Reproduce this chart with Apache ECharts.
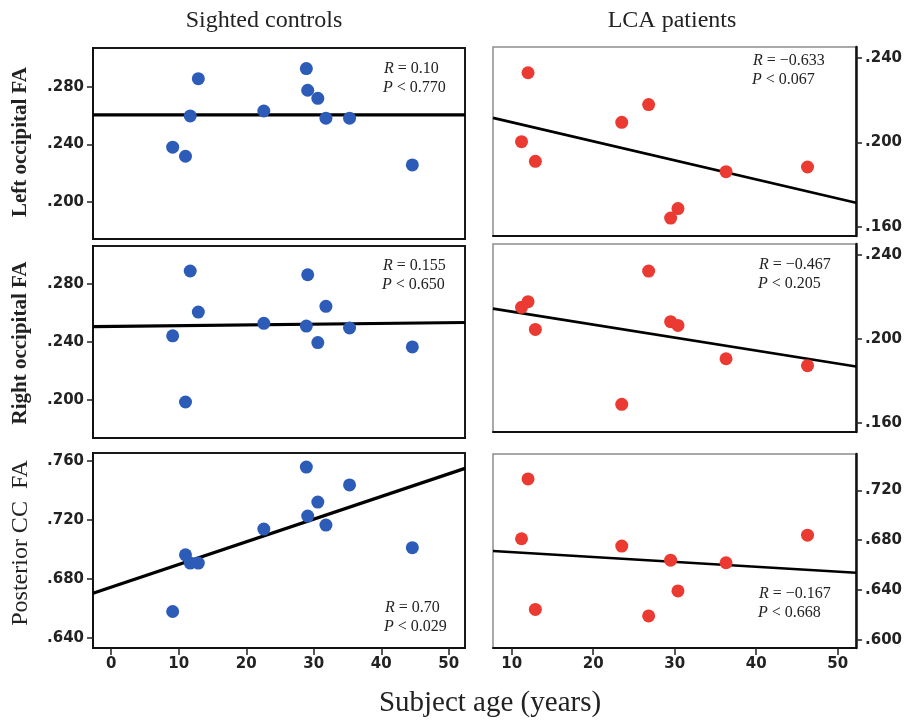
<!DOCTYPE html>
<html>
<head>
<meta charset="utf-8">
<script src="https://cdn.jsdelivr.net/npm/echarts@6/dist/echarts.min.js"></script>
<style>
  html, body { margin: 0; padding: 0; background: #fff; }
  #chart { width: 908px; height: 720px; }
</style>
</head>
<body>
<div id="chart"></div>
<script>
// ages
const sightedAge = [9.1, 11.0, 11.7, 12.9, 22.6, 28.9, 29.1, 30.6, 31.8, 35.3, 44.6]
const lcaAge = [11.2, 12.0, 12.9, 23.5, 26.8, 29.5, 30.4, 36.3, 46.3]

// FA values, same order as the ages
const sightedLeftOcc = [0.238, 0.2317, 0.2597, 0.2855, 0.2631, 0.2925, 0.2775, 0.2719, 0.2581, 0.2581, 0.2257]
const sightedRightOcc = [0.2442, 0.1984, 0.289, 0.2606, 0.2528, 0.2509, 0.2864, 0.2395, 0.2646, 0.2496, 0.2365]
const sightedPostCC = [0.6581, 0.6965, 0.6909, 0.6909, 0.7139, 0.7559, 0.7227, 0.7322, 0.7166, 0.7438, 0.7013]
const lcaLeftOcc = [0.2003, 0.2330, 0.1910, 0.2095, 0.2179, 0.1641, 0.1686, 0.1861, 0.1883]
const lcaRightOcc = [0.2151, 0.2178, 0.2046, 0.1689, 0.2324, 0.2083, 0.2065, 0.1906, 0.1873]
const lcaPostCC = [0.6811, 0.7292, 0.6243, 0.6752, 0.6191, 0.6639, 0.6392, 0.6618, 0.6840]

// regression lines: [age, FA] at both ends of each panel
const fitSightedLeftOcc = [[-2.7, 0.2604], [52.4, 0.2604]]
const fitSightedRightOcc = [[-2.7, 0.2506], [52.4, 0.2534]]
const fitSightedPostCC = [[-2.7, 0.6705], [52.4, 0.7550]]
const fitLcaLeftOcc = [[7.7, 0.2116], [52.25, 0.1714]]
const fitLcaRightOcc = [[7.7, 0.2145], [52.25, 0.1869]]
const fitLcaPostCC = [[7.7, 0.6712], [52.25, 0.6538]]

// axis ranges and tick labels
const sightedAgeRange = [-2.7, 52.4]
const lcaAgeRange = [7.7, 52.25]
const sightedAgeTicks = [0, 10, 20, 30, 40, 50]
const lcaAgeTicks = [10, 20, 30, 40, 50]
const faRanges = [[0.1743, 0.3068], [0.1735, 0.3063], [0.6334, 0.7654], [0.1556, 0.2452], [0.1557, 0.2453], [0.5933, 0.7492]]
const faTicks = [[0.20, 0.24, 0.28], [0.20, 0.24, 0.28], [0.64, 0.68, 0.72, 0.76], [0.16, 0.20, 0.24], [0.16, 0.20, 0.24], [0.60, 0.64, 0.68, 0.72]]

// correlation stats per panel
const statR = ['0.10', '0.155', '0.70', '\u22120.633', '\u22120.467', '\u22120.167']
const statP = ['0.770', '0.650', '0.029', '0.067', '0.205', '0.668']

const rowTitles = ['Left occipital FA', 'Right occipital FA', 'Posterior CC  FA']
const colTitles = ['Sighted controls', 'LCA patients']

const blue = '#2c5cb8'
const red = '#ea3a31'
const sansFont = 'DejaVu Sans'
const serifFont = 'Liberation Serif'

const chart = echarts.init(document.getElementById('chart'))

const grids = [
  {left: 93, top: 48, width: 372, height: 191},
  {left: 93, top: 246, width: 372, height: 192},
  {left: 93, top: 453, width: 372, height: 195},
  {left: 493, top: 47, width: 363, height: 189},
  {left: 493, top: 244, width: 363, height: 188},
  {left: 493, top: 454, width: 363, height: 194}
].map((g, i) => ({
  ...g,
  show: true,
  outerBoundsMode: 'none',
  borderColor: i < 3 ? '#1a1a1a' : '#8d8d8d',
  borderWidth: i < 3 ? 2 : 1.5,
  backgroundColor: 'transparent'
}))

const faLabel = (v) => '.' + v.toFixed(3).split('.')[1]

const xAxes = grids.map((g, i) => {
  const sighted = i < 3
  const bottom = i === 2 || i === 5
  const ticks = sighted ? sightedAgeTicks : lcaAgeTicks
  const range = sighted ? sightedAgeRange : lcaAgeRange
  return {
    gridIndex: i,
    type: 'value',
    min: range[0],
    max: range[1],
    axisLine: {show: true, onZero: false, lineStyle: {color: '#111', width: 2}},
    axisTick: {show: bottom, length: 7, customValues: ticks, lineStyle: {color: '#222', width: 1.5}},
    axisLabel: {
      show: bottom, customValues: ticks, margin: 9,
      fontFamily: sansFont, fontWeight: 'bold', fontSize: 15, color: '#222'
    },
    splitLine: {show: false}
  }
})

const yAxes = grids.map((g, i) => ({
  gridIndex: i,
  type: 'value',
  position: i < 3 ? 'left' : 'right',
  min: faRanges[i][0],
  max: faRanges[i][1],
  axisLine: {show: true, onZero: false, lineStyle: {color: '#111', width: i < 3 ? 2 : 2.5}},
  axisTick: {show: true, length: 6, customValues: faTicks[i], lineStyle: {color: '#222', width: 1.5}},
  axisLabel: {
    customValues: faTicks[i], margin: 9, formatter: faLabel,
    fontFamily: sansFont, fontWeight: 'bold', fontSize: 15, color: '#222'
  },
  splitLine: {show: false}
}))

const panels = [
  {age: sightedAge, fa: sightedLeftOcc, fit: fitSightedLeftOcc, color: blue},
  {age: sightedAge, fa: sightedRightOcc, fit: fitSightedRightOcc, color: blue},
  {age: sightedAge, fa: sightedPostCC, fit: fitSightedPostCC, color: blue},
  {age: lcaAge, fa: lcaLeftOcc, fit: fitLcaLeftOcc, color: red},
  {age: lcaAge, fa: lcaRightOcc, fit: fitLcaRightOcc, color: red},
  {age: lcaAge, fa: lcaPostCC, fit: fitLcaPostCC, color: red}
]

const series = []
panels.forEach((p, i) => {
  series.push({
    type: 'line',
    xAxisIndex: i,
    yAxisIndex: i,
    data: p.fit,
    symbol: 'none',
    silent: true,
    z: 2,
    lineStyle: {color: '#000', width: i < 3 ? 3.2 : 2.6}
  })
  series.push({
    type: 'scatter',
    xAxisIndex: i,
    yAxisIndex: i,
    data: p.age.map((a, k) => [a, p.fa[k]]),
    symbolSize: 13,
    z: 3,
    itemStyle: {color: p.color, opacity: 1}
  })
})

// where the R / P lines sit (left edge, first line centre)
const statPos = [[384, 69], [383, 266], [385, 608], [753, 61], [759, 265], [759, 594]]
const italic = {fontStyle: 'italic', fontFamily: serifFont, fontSize: 16, fill: '#222'}

const graphic = []
statPos.forEach((pos, i) => {
  graphic.push({
    type: 'text', x: pos[0], y: pos[1],
    style: {
      text: '{i|R} = ' + statR[i], fontFamily: serifFont, fontSize: 16, fill: '#222',
      verticalAlign: 'middle', rich: {i: italic}
    }
  })
  graphic.push({
    type: 'text', x: pos[0] - 1, y: pos[1] + 19,
    style: {
      text: '{i|P} < ' + statP[i], fontFamily: serifFont, fontSize: 16, fill: '#222',
      verticalAlign: 'middle', rich: {i: italic}
    }
  })
})

const colX = [264, 672]
colTitles.forEach((t, i) => {
  graphic.push({
    type: 'text', x: colX[i], y: 21,
    style: {text: t, fontFamily: serifFont, fontSize: 24, fill: '#222', align: 'center', verticalAlign: 'middle'}
  })
})

const rowY = [142, 343, 543]
rowTitles.forEach((t, i) => {
  graphic.push({
    type: 'text', x: 21, y: rowY[i], rotation: Math.PI / 2,
    style: {
      text: t, fontFamily: serifFont, fontSize: i < 2 ? 21 : 24,
      fontWeight: i < 2 ? 'bold' : 'normal', fill: '#222', align: 'center', verticalAlign: 'middle'
    }
  })
})

graphic.push({
  type: 'text', x: 490, y: 703,
  style: {text: 'Subject age (years)', fontFamily: serifFont, fontSize: 29, fill: '#222', align: 'center', verticalAlign: 'middle'}
})

const option = {
  animation: false,
  backgroundColor: '#fff',
  grid: grids,
  xAxis: xAxes,
  yAxis: yAxes,
  series: series,
  graphic: graphic
}

chart.setOption(option)
</script>
</body>
</html>
